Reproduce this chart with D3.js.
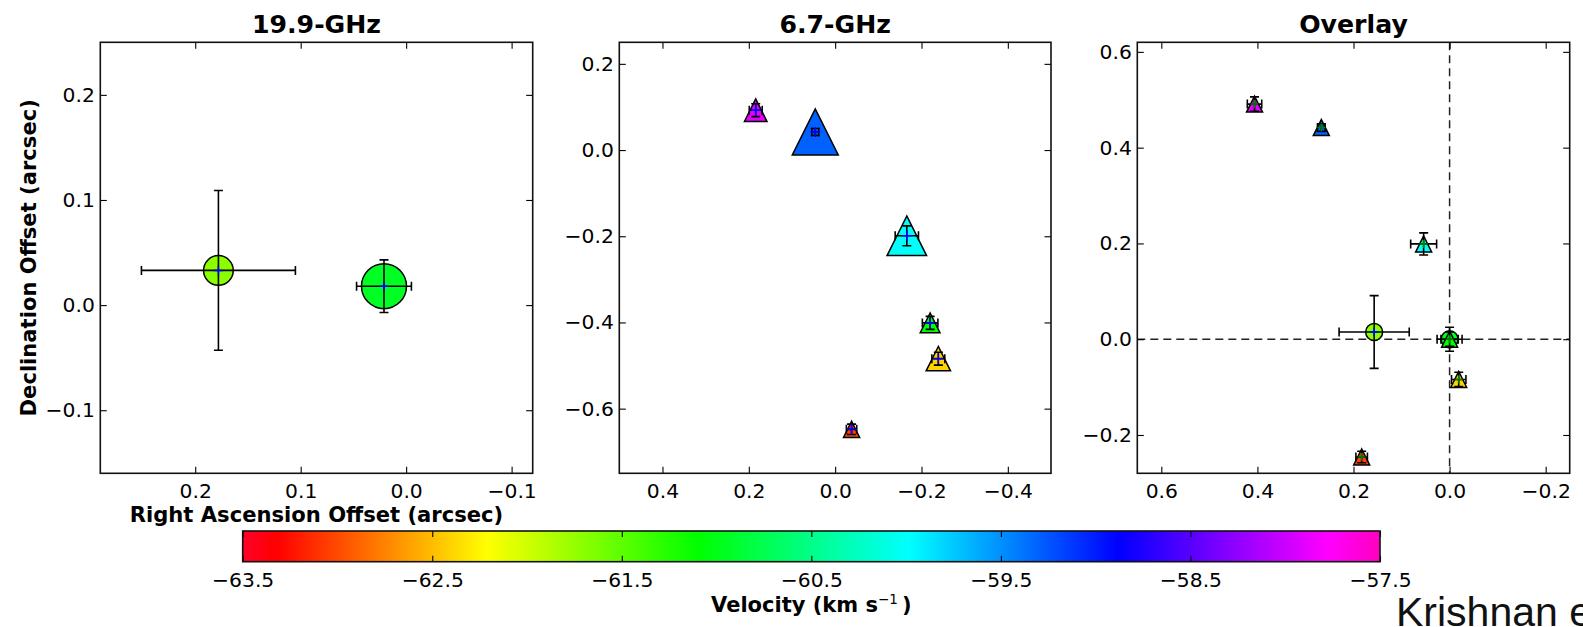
<!DOCTYPE html>
<html>
<head>
<meta charset="utf-8">
<script src="https://cdn.jsdelivr.net/npm/d3@7"></script>
<style>
  body { margin: 0; background: #fff; }
  svg { display: block; }
</style>
</head>
<body>
<svg id="fig" width="1583" height="627"></svg>
<script>
// ---------- 19.9-GHz methanol maser features (arcsec offsets) ----------
const kRA      = [0.178, 0.021];
const kDec     = [0.033, 0.018];
const kRAErr   = [0.073, 0.026];
const kDecErr  = [0.076, 0.025];
const kVel     = [-61.7, -60.95];          // km/s
const kFlux    = [0.66, 1.00];             // relative peak intensity

// ---------- 6.7-GHz methanol maser features ----------
const cRA      = [0.184, 0.046, -0.166, -0.220, -0.239, -0.038];
const cDec     = [0.0925, 0.042, -0.199, -0.401, -0.484, -0.648];
const cRAErr   = [0.015, 0.008, 0.027, 0.018, 0.015, 0.012];
const cDecErr  = [0.015, 0.008, 0.023, 0.015, 0.015, 0.012];
const cVel     = [-57.9, -59.3, -60.0, -61.1, -62.4, -63.05];
const cFlux    = [0.49, 1.00, 0.86, 0.43, 0.53, 0.35];

// ---------- Overlay: both transitions relative to their reference features ----------
const ovKRA    = [0.157, 0.0];
const ovKDec   = [0.015, 0.0];
const ovCRA    = [0.406, 0.267, 0.054, 0.0, -0.019, 0.183];
const ovCDec   = [0.491, 0.442, 0.199, 0.0, -0.084, -0.246];

// ---------- Axis ticks ----------
const k19XTicks = [0.2, 0.1, 0.0, -0.1];
const k19YTicks = [-0.1, 0.0, 0.1, 0.2];
const c67XTicks = [0.4, 0.2, 0.0, -0.2, -0.4];
const c67YTicks = [-0.6, -0.4, -0.2, 0.0, 0.2];
const ovXTicks  = [0.6, 0.4, 0.2, 0.0, -0.2];
const ovYTicks  = [-0.2, 0.0, 0.2, 0.4, 0.6];
const velTicks  = [-63.5, -62.5, -61.5, -60.5, -59.5, -58.5, -57.5];
const velRange  = [-63.5, -57.5];

// gist_rainbow colormap anchor points
const rainbowPos = [0.000, 0.030, 0.215, 0.400, 0.586, 0.770, 0.954, 1.000];
const rainbowCol = ["rgb(255,0,41)", "rgb(255,0,0)", "rgb(255,255,0)", "rgb(0,255,0)",
                    "rgb(0,255,255)", "rgb(0,0,255)", "rgb(255,0,255)", "rgb(255,0,191)"];

const rainbow = d3.scaleLinear().domain(rainbowPos).range(rainbowCol).interpolate(d3.interpolateRgb);
const velNorm = d3.scaleLinear().domain(velRange).range([0, 1]).clamp(true);
const velColor = v => rainbow(velNorm(v));

const FONT = "'DejaVu Sans', sans-serif";
const svg = d3.select("#fig");
const fmt1 = d3.format(".1f");

function makePanel(cfg) {
  const g = svg.append("g").attr("transform", `translate(${cfg.x0},${cfg.y0})`);
  const xs = d3.scaleLinear().domain(cfg.xDomain).range([0, cfg.w]);
  const ys = d3.scaleLinear().domain(cfg.yDomain).range([cfg.h, 0]);
  const clipId = "clip" + cfg.id;
  g.append("clipPath").attr("id", clipId)
    .append("rect").attr("width", cfg.w).attr("height", cfg.h);
  g.append("rect").attr("width", cfg.w).attr("height", cfg.h).attr("fill", "#fff");
  const plot = g.append("g").attr("clip-path", `url(#${clipId})`);

  const styleAxis = a => {
    a.select(".domain").remove();
    a.attr("font-size", 20.3).attr("font-family", FONT);
    a.selectAll("line").attr("stroke", "#000").attr("stroke-width", 1.1);
  };
  g.append("g").attr("transform", `translate(0,${cfg.h})`)
    .call(d3.axisBottom(xs).tickValues(cfg.xTicks).tickFormat(fmt1)
      .tickSizeInner(-6.5).tickSizeOuter(0).tickPadding(10)).call(styleAxis);
  g.append("g")
    .call(d3.axisTop(xs).tickValues(cfg.xTicks).tickFormat("")
      .tickSizeInner(-6.5).tickSizeOuter(0)).call(styleAxis);
  g.append("g")
    .call(d3.axisLeft(ys).tickValues(cfg.yTicks).tickFormat(fmt1)
      .tickSizeInner(-6.5).tickSizeOuter(0).tickPadding(5.5)).call(styleAxis);
  g.append("g").attr("transform", `translate(${cfg.w},0)`)
    .call(d3.axisRight(ys).tickValues(cfg.yTicks).tickFormat("")
      .tickSizeInner(-6.5).tickSizeOuter(0)).call(styleAxis);

  g.append("text").attr("x", cfg.w / 2).attr("y", -9.3)
    .attr("text-anchor", "middle").attr("font-family", FONT)
    .attr("font-weight", "bold").attr("font-size", 25.2).text(cfg.title);

  const frame = g.append("rect").attr("width", cfg.w).attr("height", cfg.h)
    .attr("fill", "none").attr("stroke", "#111").attr("stroke-width", 1.6);
  return { g, plot, xs, ys, frame };
}

// rows of {x, y, xe, ye, v, s}
function rows(xa, ya, xea, yea, va, sa) {
  return xa.map((x, i) => ({ x, y: ya[i], xe: xea[i], ye: yea[i], v: va[i], s: sa[i] }));
}

function drawCircles(p, data, rScale) {
  p.plot.append("g").selectAll("circle").data(data).join("circle")
    .attr("cx", d => p.xs(d.x)).attr("cy", d => p.ys(d.y))
    .attr("r", d => rScale(d.s))
    .attr("fill", d => velColor(d.v)).attr("stroke", "#000").attr("stroke-width", 1.5);
}

function drawTriangles(p, data, sizeScale) {
  p.plot.append("g").selectAll("path").data(data).join("path")
    .attr("d", d => {
      const cx = p.xs(d.x), cy = p.ys(d.y), h = sizeScale(d.s) / 2;
      return `M${cx},${cy - h}L${cx - h},${cy + h}L${cx + h},${cy + h}Z`;
    })
    .attr("fill", d => velColor(d.v)).attr("stroke", "#000").attr("stroke-width", 1.5)
    .attr("stroke-linejoin", "miter");
}

function drawErrorBars(p, data) {
  const cap = 4.5;
  const eg = p.plot.append("g").attr("stroke", "#000").attr("stroke-width", 1.6).attr("fill", "none");
  data.forEach(d => {
    const cx = p.xs(d.x), cy = p.ys(d.y);
    const xl = p.xs(d.x - d.xe), xr = p.xs(d.x + d.xe);
    const yt = p.ys(d.y + d.ye), yb = p.ys(d.y - d.ye);
    eg.append("path").attr("d",
      `M${xl},${cy}H${xr}` +
      `M${xl},${cy - cap}V${cy + cap}M${xr},${cy - cap}V${cy + cap}` +
      `M${cx},${yt}V${yb}` +
      `M${cx - cap},${yt}H${cx + cap}M${cx - cap},${yb}H${cx + cap}`);
  });
}

function drawCentres(p, data, color, half) {
  const cg = p.plot.append("g").attr("stroke", color).attr("stroke-width", 1.5);
  data.forEach(d => {
    const cx = p.xs(d.x), cy = p.ys(d.y);
    cg.append("path").attr("d", `M${cx - half},${cy}H${cx + half}M${cx},${cy - half}V${cy + half}`);
  });
}

const kData = rows(kRA, kDec, kRAErr, kDecErr, kVel, kFlux);
const cData = rows(cRA, cDec, cRAErr, cDecErr, cVel, cFlux);
const ovK = rows(ovKRA, ovKDec, kRAErr, kDecErr, kVel, kFlux);
const ovC = rows(ovCRA, ovCDec, cRAErr, cDecErr, cVel, cFlux);

// marker size scales (relative intensity -> pixels)
const circleR = d3.scaleLinear().domain([0, 1]).range([0, 22.5]);
const triSize = d3.scaleLinear().domain([0, 1]).range([0, 46]);
const ovCircleR = () => 8.5;
const ovTriSize = () => 16;

// ---- Panel 1: 19.9 GHz ----
const p1 = makePanel({ id: 1, x0: 100.3, y0: 42.3, w: 432.4, h: 431,
  xDomain: [0.29, -0.12], yDomain: [-0.16, 0.25],
  xTicks: k19XTicks, yTicks: k19YTicks, title: "19.9-GHz" });
drawCircles(p1, kData, circleR);
drawErrorBars(p1, kData);
drawCentres(p1, kData, "#0000ff", 4.5);
p1.frame.raise();

// ---- Panel 2: 6.7 GHz ----
const p2 = makePanel({ id: 2, x0: 619.3, y0: 42.3, w: 431.7, h: 431,
  xDomain: [0.5, -0.5], yDomain: [-0.75, 0.25],
  xTicks: c67XTicks, yTicks: c67YTicks, title: "6.7-GHz" });
drawTriangles(p2, cData, triSize);
drawErrorBars(p2, cData);
drawCentres(p2, cData, "#0000ff", 5);
p2.frame.raise();

// ---- Panel 3: overlay ----
const p3 = makePanel({ id: 3, x0: 1137.3, y0: 42.3, w: 432.4, h: 431,
  xDomain: [0.65, -0.25], yDomain: [-0.28, 0.62],
  xTicks: ovXTicks, yTicks: ovYTicks, title: "Overlay" });
p3.plot.append("g").attr("stroke", "#222").attr("stroke-width", 1.5).attr("stroke-dasharray", "8,5")
  .call(gg => {
    gg.append("line").attr("x1", p3.xs(0)).attr("x2", p3.xs(0)).attr("y1", 0).attr("y2", p3.ys.range()[0]);
    gg.append("line").attr("x1", 0).attr("x2", p3.xs.range()[1]).attr("y1", p3.ys(0)).attr("y2", p3.ys(0));
  });
drawCircles(p3, ovK, ovCircleR);
drawErrorBars(p3, ovK);
drawCentres(p3, ovK, "#0000ff", 4);
drawTriangles(p3, ovC, ovTriSize);
drawErrorBars(p3, ovC);
drawCentres(p3, ovC, "#008000", 4);
p3.frame.raise();

// ---- Axis labels ----
svg.append("text").attr("x", 316.5).attr("y", 521.5)
  .attr("text-anchor", "middle").attr("font-family", FONT).attr("font-weight", "bold")
  .attr("font-size", 21.1).text("Right Ascension Offset (arcsec)");
svg.append("text").attr("transform", "translate(36,257.8) rotate(-90)")
  .attr("text-anchor", "middle").attr("font-family", FONT).attr("font-weight", "bold")
  .attr("font-size", 21.1).text("Declination Offset (arcsec)");

// ---- Velocity colour bar ----
const cb = { x0: 242.7, y0: 531, w: 1137.3, h: 30.7 };
const vScale = d3.scaleLinear().domain(velRange).range([0, cb.w]);
const grad = svg.append("defs").append("linearGradient").attr("id", "velGrad")
  .attr("x1", 0).attr("x2", 1).attr("y1", 0).attr("y2", 0);
d3.range(0, 257).forEach(i => {
  const t = i / 256;
  grad.append("stop").attr("offset", t).attr("stop-color", rainbow(t));
});
const cbg = svg.append("g").attr("transform", `translate(${cb.x0},${cb.y0})`);
cbg.append("rect").attr("width", cb.w).attr("height", cb.h).attr("fill", "url(#velGrad)");
const styleCb = a => {
  a.select(".domain").remove();
  a.attr("font-size", 20.3).attr("font-family", FONT);
  a.selectAll("line").attr("stroke", "#000").attr("stroke-width", 1.1);
};
cbg.append("g").attr("transform", `translate(0,${cb.h})`)
  .call(d3.axisBottom(vScale).tickValues(velTicks).tickFormat(fmt1)
    .tickSizeInner(-6).tickSizeOuter(0).tickPadding(10.5)).call(styleCb);
cbg.append("g")
  .call(d3.axisTop(vScale).tickValues(velTicks).tickFormat("")
    .tickSizeInner(-6).tickSizeOuter(0)).call(styleCb);
cbg.append("rect").attr("width", cb.w).attr("height", cb.h)
  .attr("fill", "none").attr("stroke", "#111").attr("stroke-width", 1.6);

const vl = svg.append("text").attr("x", cb.x0 + cb.w / 2).attr("y", 612)
  .attr("text-anchor", "middle").attr("font-family", FONT).attr("font-weight", "bold")
  .attr("font-size", 21);
vl.append("tspan").text("Velocity (km s");
vl.append("tspan").attr("dy", -8).attr("font-size", 13.5).attr("font-weight", "normal").text("\u22121");
vl.append("tspan").attr("dy", 8).text("\u2009)");

// ---- Citation ----
svg.append("text").attr("x", 1396).attr("y", 626)
  .attr("font-family", "'Liberation Sans', Arial, sans-serif").attr("font-size", 41)
  .attr("fill", "#111").text("Krishnan et al.");
</script>
</body>
</html>
